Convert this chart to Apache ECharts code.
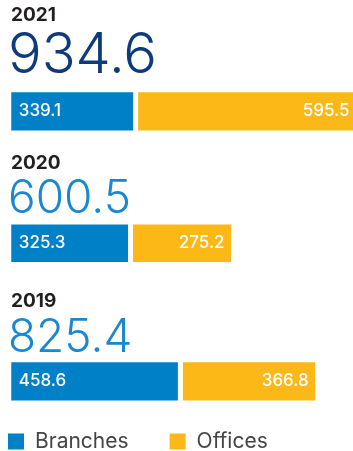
<!DOCTYPE html>
<html>
<head>
<meta charset="utf-8">
<script src="https://cdn.jsdelivr.net/npm/echarts@6/dist/echarts.min.js"></script>
<style>
  html, body { margin: 0; padding: 0; background: #fff; }
  #chart { width: 353px; height: 451px; }
</style>
</head>
<body>
<div id="chart"></div>
<script>
// Floor space by year, split into branches and offices
const years = ['2021', '2020', '2019'];
const branches = [339.1, 325.3, 458.6];
const offices = [595.5, 275.2, 366.8];
const seriesNames = ['Branches', 'Offices'];

const BLUE = '#0080c6';
const YELLOW = '#fcb817';
const FONT = 'Inter, Roboto, sans-serif';

// per-row layout: bar top/height, and title positions
const rows = [
  { barTop: 89.75, barH: 43.2, yearY: 17, totalY: 62, totalSize: 56, totalColor: '#0d3b7c' },
  { barTop: 222, barH: 42.5, yearY: 165, totalY: 203.5, totalSize: 46, totalColor: '#1a88d0' },
  { barTop: 359.75, barH: 43.2, yearY: 303, totalY: 342.5, totalSize: 46, totalColor: '#1a88d0' }
];

const grids = [], xAxes = [], yAxes = [], series = [], graphics = [];

years.forEach((yr, i) => {
  const r = rows[i];
  grids.push({ left: 8.75, top: r.barTop, width: 374.3, height: r.barH, containLabel: false, outerBoundsMode: 'none' });
  xAxes.push({ gridIndex: i, type: 'value', min: 0, max: 1000, show: false });
  yAxes.push({ gridIndex: i, type: 'category', data: [yr], show: false });

  const common = {
    type: 'bar', stack: 'total' + i, xAxisIndex: i, yAxisIndex: i,
    barWidth: '100%', clip: false, silent: true,
    itemStyle: { borderColor: '#fff', borderWidth: 2.5 }
  };
  const labelStyle = { color: '#fff', fontFamily: FONT, fontSize: 17, fontWeight: 500, formatter: p => p.value.toFixed(1) };
  series.push(Object.assign({}, common, {
    name: seriesNames[0],
    data: [branches[i]],
    itemStyle: Object.assign({}, common.itemStyle, { color: BLUE }),
    label: Object.assign({ show: true, position: 'insideLeft', distance: 10 }, labelStyle)
  }));
  series.push(Object.assign({}, common, {
    name: seriesNames[1],
    data: [offices[i]],
    itemStyle: Object.assign({}, common.itemStyle, { color: YELLOW }),
    label: Object.assign({ show: true, position: 'insideRight', distance: 9 }, labelStyle)
  }));

  // year heading and the row total above each bar
  graphics.push({
    type: 'text', left: 11, top: r.yearY - 11,
    style: { text: yr, fill: '#231f20', font: `bold 19px ${FONT}` }
  });
  graphics.push({
    type: 'text', left: 8, top: r.totalY - r.totalSize * 0.6,
    style: {
      text: (branches[i] + offices[i]).toFixed(1),
      fill: r.totalColor, font: `300 ${r.totalSize}px ${FONT}`
    }
  });
});

const chart = echarts.init(document.getElementById('chart'), null, { renderer: 'canvas' });
chart.setOption({
  animation: false,
  backgroundColor: '#fff',
  grid: grids,
  xAxis: xAxes,
  yAxis: yAxes,
  series: series,
  graphic: graphics,
  legend: {
    data: seriesNames,
    left: 8, top: 431,
    padding: 0,
    icon: 'rect', itemWidth: 16, itemHeight: 16, itemGap: 41,
    itemStyle: { borderWidth: 0 },
    textStyle: { fontFamily: FONT, fontSize: 21, color: '#444', padding: [0, 0, 0, 6] },
    selectedMode: false
  }
});
</script>
</body>
</html>
